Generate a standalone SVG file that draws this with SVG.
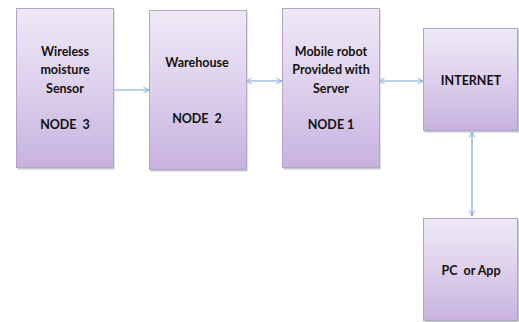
<svg xmlns="http://www.w3.org/2000/svg" width="519" height="322" viewBox="0 0 519 322">
<defs>
<linearGradient id="g" x1="0" y1="0" x2="0" y2="1">
<stop offset="0" stop-color="#eee9f6"/>
<stop offset="0.5" stop-color="#ddd0ec"/>
<stop offset="1" stop-color="#c7b2df"/>
</linearGradient>
<marker id="ah" viewBox="0 0 10 10" refX="9" refY="5" markerWidth="7" markerHeight="7" markerUnits="userSpaceOnUse" orient="auto-start-reverse">
<path d="M1,1 L9,5 L1,9" fill="none" stroke="#7aa6d6" stroke-width="1.3"/>
</marker>
</defs>
<style>
.box{fill:url(#g);stroke:#b4a3c9;stroke-width:1;}
.sh{fill:#c8c8c8;}
.t{font-family:Lato,"Liberation Sans",sans-serif;font-weight:bold;font-size:12.5px;fill:#111;text-anchor:middle;white-space:pre;}
.c{stroke:#7aa6d6;stroke-width:1.2;fill:none;}
</style>
<rect width="519" height="322" fill="#fff"/>
<g id="connectors">
<line class="c" x1="113" y1="90" x2="149" y2="90" marker-end="url(#ah)"/>
<line class="c" x1="246" y1="81" x2="282" y2="81" marker-start="url(#ah)" marker-end="url(#ah)"/>
<line class="c" x1="379" y1="81" x2="423" y2="81" marker-start="url(#ah)" marker-end="url(#ah)"/>
<line class="c" x1="472" y1="132" x2="472" y2="216" marker-start="url(#ah)" marker-end="url(#ah)"/>
</g>
<g id="node3">
<rect class="sh" x="17.5" y="9.5" width="97" height="160"/>
<rect class="box" x="16.5" y="8.5" width="97" height="159"/>
<text class="t" x="65" y="56">Wireless</text>
<text class="t" x="65" y="74">moisture</text>
<text class="t" x="65" y="93">Sensor</text>
<text class="t" x="65" y="129" xml:space="preserve">NODE  3</text>
</g>
<g id="node2">
<rect class="sh" x="150.5" y="11.5" width="97" height="160"/>
<rect class="box" x="149.5" y="10.5" width="97" height="159"/>
<text class="t" x="197" y="67">Warehouse</text>
<text class="t" x="197" y="123" xml:space="preserve">NODE  2</text>
</g>
<g id="node1">
<rect class="sh" x="283.5" y="9.5" width="97" height="160"/>
<rect class="box" x="282.5" y="8.5" width="97" height="159"/>
<text class="t" x="331" y="56">Mobile robot</text>
<text class="t" x="331" y="74">Provided with</text>
<text class="t" x="331" y="93">Server</text>
<text class="t" x="331" y="129">NODE 1</text>
</g>
<g id="internet">
<rect class="sh" x="424.5" y="29.5" width="95" height="103"/>
<rect class="box" x="423.5" y="28.5" width="94" height="102"/>
<text class="t" x="471" y="85">INTERNET</text>
</g>
<g id="pc">
<rect class="sh" x="424.5" y="219.5" width="95" height="103"/>
<rect class="box" x="423.5" y="218.5" width="94" height="102"/>
<text class="t" x="471" y="275" xml:space="preserve">PC  or App</text>
</g>
</svg>
